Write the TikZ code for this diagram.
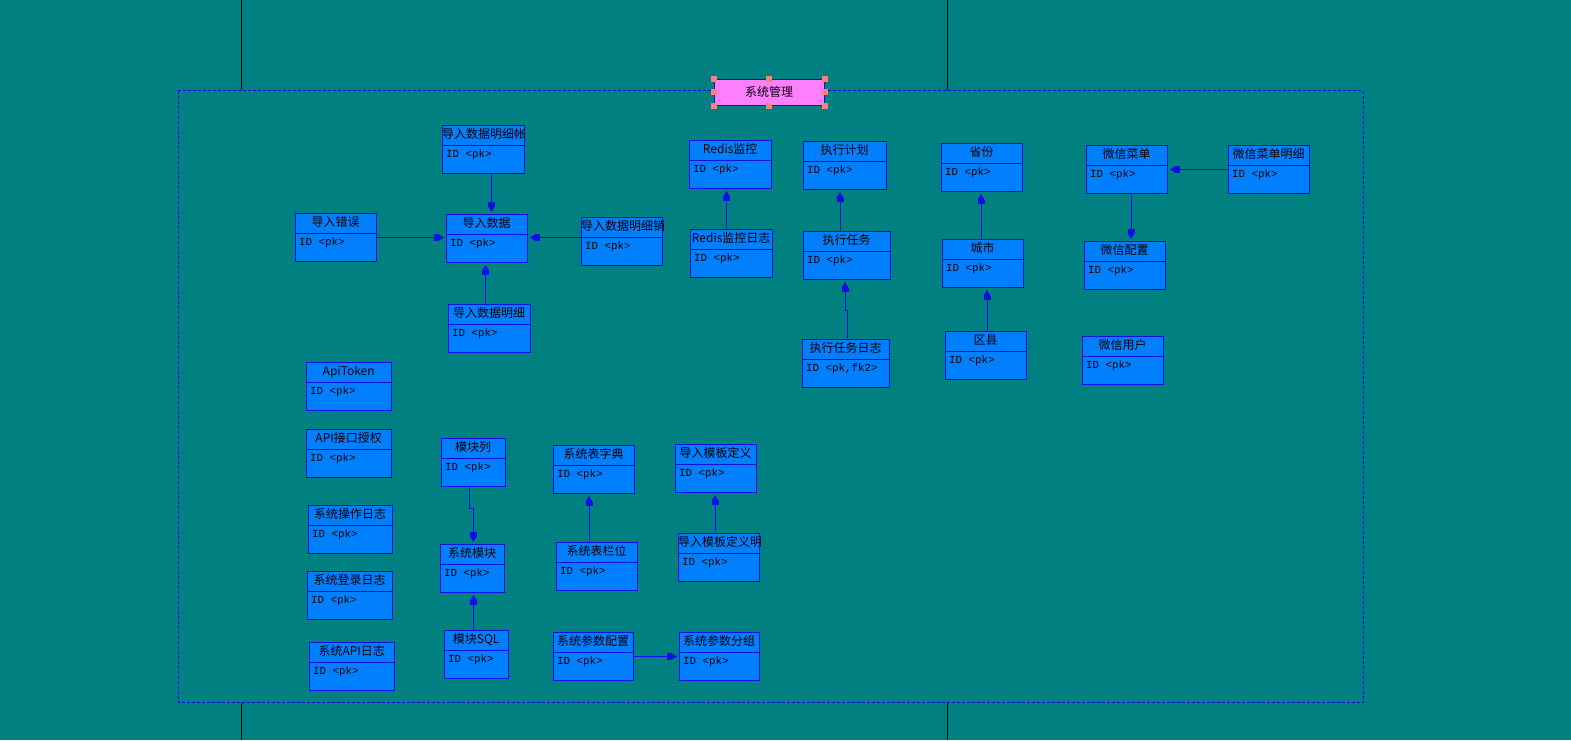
\documentclass[tikz,border=0pt]{standalone}
\usepackage{fontspec}
\setmainfont{Noto Sans CJK SC}
\newfontfamily\monofont{Liberation Mono}
\usetikzlibrary{arrows.meta}

\definecolor{bgteal}{RGB}{0,128,128}
\definecolor{erfill}{RGB}{0,128,255}
\definecolor{erblue}{RGB}{16,16,230}
\definecolor{pinkfill}{RGB}{255,128,255}
\definecolor{handlecol}{RGB}{255,128,128}

\tikzset{
  entbox/.style={draw=erblue, fill=erfill, line width=1pt, anchor=north west, minimum height=48pt, inner sep=0pt},
  entline/.style={draw=erblue, line width=1pt},
  enttitle/.style={anchor=base west, inner sep=0pt, align=center, font={\fontsize{12pt}{14pt}\selectfont}},
  entattr/.style={anchor=base west, inner sep=0pt, font={\monofont\fontsize{10.8pt}{12pt}\selectfont}},
  fk/.style={draw=erblue, line width=1pt, shorten >=2pt, -{Rectangle[length=4pt,width=7pt,sep=0pt]Triangle[length=6pt,width=7pt,sep=0pt]}},
  erframe/.style={draw=blue, line width=1pt, dash pattern=on 3pt off 2pt},
  titlebox/.style={draw=erblue, fill=pinkfill, line width=1pt, minimum width=110pt, minimum height=26pt, inner sep=0pt, font={\fontsize{12pt}{14pt}\selectfont}},
  handle/.style={fill=handlecol},
}

% table box: name, x, y, width, title, key line
\newcommand\erbox[6]{%
  \node[entbox, minimum width=#4pt] (#1) at (#2,#3) {};
  \draw[entline] ([yshift=-20pt]#1.north west) -- ([yshift=-20pt]#1.north east);
  \begin{scope}
    \clip (#1.north west) rectangle ([yshift=-20pt]#1.north east);
    \node[enttitle, text width=#4pt] at ([yshift=-13pt]#1.north west) {\noindent\mbox{#5}};
  \end{scope}
  \node[entattr] at ([shift={(4pt,-32pt)}]#1.north west) {#6};
}

\begin{document}
\begin{tikzpicture}[x=1pt, y=-1pt]
  \useasboundingbox (0,0) rectangle (1571,740);
  \fill[bgteal] (0,0) rectangle (1571,740);

  % page borders
  \draw[black, line width=1pt] (241.5,0) -- (241.5,90) (947,0) -- (947,90);
  \draw[black, line width=1pt] (241.5,703) -- (241.5,740) (947,703) -- (947,740);

  % package frame
  \draw[erframe] (178,90.5) rectangle (1363,702);
  \node[titlebox] (title) at (769,92) {系统管理};
  \foreach \a in {north west, north, north east, west, east, south west, south, south east}
    \fill[handle] (title.\a) +(-3,-3) rectangle +(3,3);

  % import
  \erbox{dmz}{442}{125}{82}{导入数据明细帐}{ID <pk>}
  \erbox{dcw}{295}{213}{81}{导入错误}{ID <pk>}
  \erbox{drsj}{446}{214}{81}{导入数据}{ID <pk>}
  \erbox{dmx2}{581}{217}{81}{导入数据明细销}{ID <pk>}
  \erbox{dmx}{448}{304}{82}{导入数据明细}{ID <pk>}

  % redis / jobs
  \erbox{redis}{689}{140}{82}{Redis监控}{ID <pk>}
  \erbox{redislog}{690}{229}{82}{Redis监控日志}{ID <pk>}
  \erbox{jhjh}{803}{141}{83}{执行计划}{ID <pk>}
  \erbox{rw}{803}{231}{87}{执行任务}{ID <pk>}
  \erbox{rwlog}{802}{339}{87}{执行任务日志}{ID <pk,fk2>}

  % region
  \erbox{sf}{941}{143}{81}{省份}{ID <pk>}
  \erbox{cs}{942}{239}{81}{城市}{ID <pk>}
  \erbox{qx}{945}{331}{81}{区县}{ID <pk>}

  % wechat
  \erbox{wxcd}{1086}{145}{81}{微信菜单}{ID <pk>}
  \erbox{wxcdmx}{1228}{145}{81}{微信菜单明细}{ID <pk>}
  \erbox{wxpz}{1084}{241}{81}{微信配置}{ID <pk>}
  \erbox{wxyh}{1082}{336}{81}{微信用户}{ID <pk>}

  % api / logs
  \erbox{apitoken}{306}{362}{85}{ApiToken}{ID <pk>}
  \erbox{apisq}{306}{429}{85}{API接口授权}{ID <pk>}
  \erbox{czlog}{308}{505}{84}{系统操作日志}{ID <pk>}
  \erbox{dllog}{307}{571}{85}{系统登录日志}{ID <pk>}
  \erbox{apilog}{309}{642}{85}{系统API日志}{ID <pk>}

  % modules
  \erbox{mkl}{441}{438}{64}{模块列}{ID <pk>}
  \erbox{xtmk}{440}{544}{64}{系统模块}{ID <pk>}
  \erbox{mksql}{444}{630}{64}{模块SQL}{ID <pk>}

  % system tables
  \erbox{bzd}{553}{445}{81}{系统表字典}{ID <pk>}
  \erbox{blw}{556}{542}{81}{系统表栏位}{ID <pk>}
  \erbox{mbdy}{675}{444}{81}{导入模板定义}{ID <pk>}
  \erbox{mbmx}{678}{533}{81}{导入模板定义明}{ID <pk>}
  \erbox{cspz}{553}{632}{80}{系统参数配置}{ID <pk>}
  \erbox{csfz}{679}{632}{80}{系统参数分组}{ID <pk>}

  % references
  \draw[fk] ([xshift=8pt]dmz.south) -- ([xshift=8pt]dmz.south |- drsj.north);
  \draw[fk] (dcw.east) -- (dcw.east -| drsj.west);
  \draw[fk] ([yshift=4pt]dmx2.west) -- ([yshift=4pt]dmx2.west -| drsj.east);
  \draw[fk] ([xshift=-4pt]dmx.north) -- ([xshift=-4pt]dmx.north |- drsj.south);
  \draw[fk] ([xshift=-5pt]redislog.north) -- ([xshift=-5pt]redislog.north |- redis.south);
  \draw[fk] ([xshift=-7pt]rw.north) -- ([xshift=-7pt]rw.north |- jhjh.south);
  \draw[fk] ([xshift=1pt]rwlog.north) -- ++(0,-29) -| ([xshift=-2pt]rw.south);
  \draw[fk] ([xshift=-2pt]cs.north) -- ([xshift=-2pt]cs.north |- sf.south);
  \draw[fk] ([xshift=1pt]qx.north) -- ([xshift=1pt]qx.north |- cs.south);
  \draw[fk] (wxcdmx.west) -- (wxcdmx.west -| wxcd.east);
  \draw[fk] ([xshift=4pt]wxcd.south) -- ([xshift=4pt]wxcd.south |- wxpz.north);
  \draw[fk] ([xshift=-4pt]mkl.south) -- ++(0,21) -| ([xshift=1pt]xtmk.north);
  \draw[fk] ([xshift=-3pt]mksql.north) -- ([xshift=-3pt]mksql.north |- xtmk.south);
  \draw[fk] ([xshift=-8pt]blw.north) -- ([xshift=-8pt]blw.north |- bzd.south);
  \draw[fk] ([xshift=-4pt]mbmx.north) -- ([xshift=-4pt]mbmx.north |- mbdy.south);
  \draw[fk] (cspz.east) -- (cspz.east -| csfz.west);
\end{tikzpicture}
\end{document}
